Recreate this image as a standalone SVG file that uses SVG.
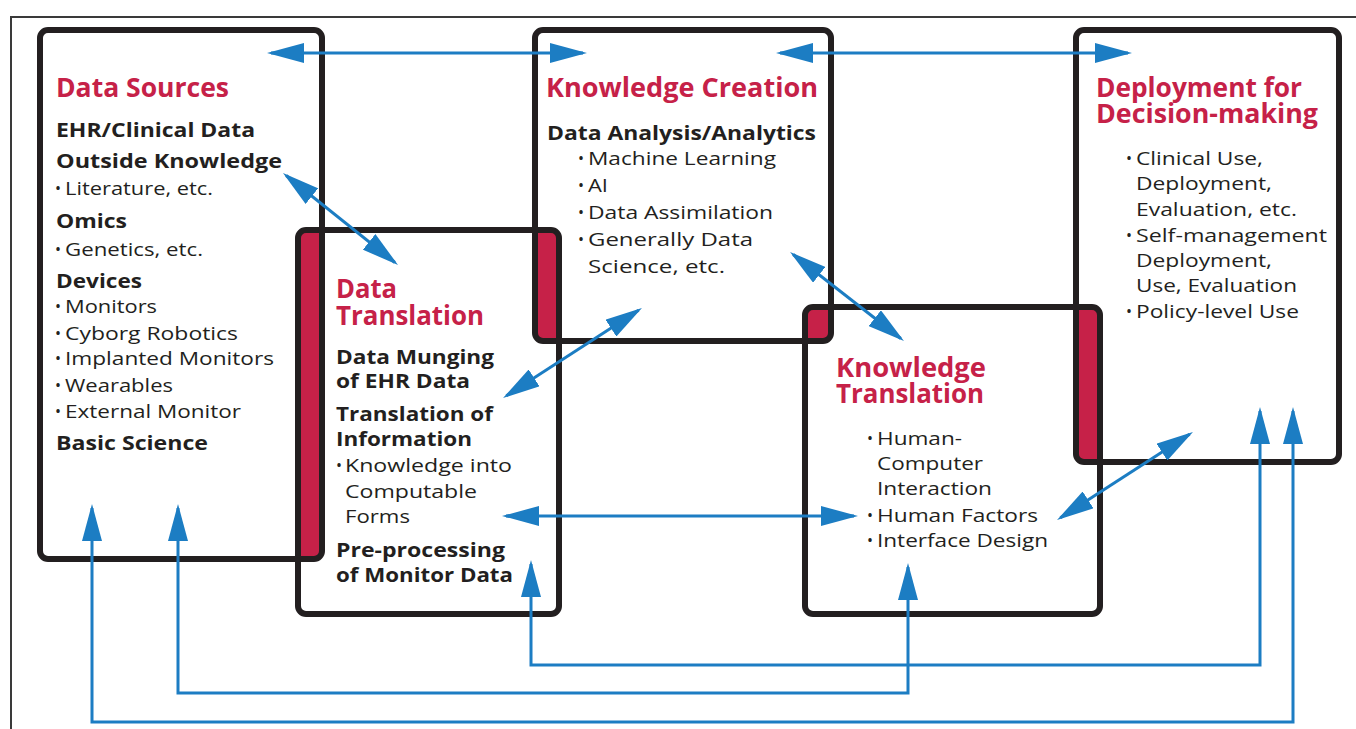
<svg xmlns="http://www.w3.org/2000/svg" width="1356" height="729" viewBox="0 0 1356 729">
  <style>
    .frame { fill: none; stroke: #3a3a3a; stroke-width: 2; }
    .box { fill: none; stroke: #231F20; stroke-width: 6; }
    .band { fill: #C62148; }
    .t { font-family: "Open Sans", "DejaVu Sans", sans-serif; font-weight: 700; font-size: 26px; fill: #C62148; }
    .h { font-family: "Open Sans", "DejaVu Sans", sans-serif; font-weight: 700; font-size: 20px; fill: #231F20; }
    .r { font-family: "Open Sans", "DejaVu Sans", sans-serif; font-weight: 400; font-size: 19px; fill: #231F20; }
    .d { font-family: "Open Sans", "DejaVu Sans", sans-serif; font-weight: 700; font-size: 12px; fill: #231F20; text-anchor: middle; }
    .link { fill: none; stroke: #1C7DC3; stroke-width: 3; marker-start: url(#ah); marker-end: url(#ah); }
  </style>
  <defs>
    <marker id="ah" viewBox="0 0 37 20" refX="33" refY="10" markerWidth="37" markerHeight="20" markerUnits="userSpaceOnUse" orient="auto-start-reverse">
      <path d="M0,0 L37,10 L0,20 z" fill="#1C7DC3"/>
    </marker>
  </defs>

  <rect width="1356" height="729" fill="#ffffff"/>
  <!-- page frame -->
  <path class="frame" d="M11,729 V17 H1356"/>

  <!-- shaded overlap bands -->
  <g id="bands">
    <rect class="band" x="298" y="230" width="24" height="329" rx="6"/>
    <rect class="band" x="535" y="230" width="24" height="111" rx="6"/>
    <rect class="band" x="805" y="307" width="26" height="34" rx="6"/>
    <rect class="band" x="1076" y="307" width="24" height="155" rx="6"/>
  </g>

  <g id="data-sources">
    <rect class="box" x="40" y="30" width="282" height="529" rx="8"/>
    <text class="t" x="56" y="97" textLength="173" lengthAdjust="spacingAndGlyphs">Data Sources</text>
    <text class="h" x="56" y="137" textLength="199" lengthAdjust="spacingAndGlyphs">EHR/Clinical Data</text>
    <text class="h" x="56" y="168" textLength="226" lengthAdjust="spacingAndGlyphs">Outside Knowledge</text>
    <text class="d" x="58" y="193">•</text>
    <text class="r" x="65" y="195" textLength="148" lengthAdjust="spacingAndGlyphs">Literature, etc.</text>
    <text class="h" x="56" y="228" textLength="71" lengthAdjust="spacingAndGlyphs">Omics</text>
    <text class="d" x="58" y="254">•</text>
    <text class="r" x="65" y="256" textLength="138" lengthAdjust="spacingAndGlyphs">Genetics, etc.</text>
    <text class="h" x="56" y="288" textLength="86" lengthAdjust="spacingAndGlyphs">Devices</text>
    <text class="d" x="58" y="311">•</text>
    <text class="r" x="65" y="313" textLength="92" lengthAdjust="spacingAndGlyphs">Monitors</text>
    <text class="d" x="58" y="338">•</text>
    <text class="r" x="65" y="340" textLength="173" lengthAdjust="spacingAndGlyphs">Cyborg Robotics</text>
    <text class="d" x="58" y="363">•</text>
    <text class="r" x="65" y="365" textLength="209" lengthAdjust="spacingAndGlyphs">Implanted Monitors</text>
    <text class="d" x="58" y="390">•</text>
    <text class="r" x="65" y="392" textLength="108" lengthAdjust="spacingAndGlyphs">Wearables</text>
    <text class="d" x="58" y="416">•</text>
    <text class="r" x="65" y="418" textLength="176" lengthAdjust="spacingAndGlyphs">External Monitor</text>
    <text class="h" x="56" y="450" textLength="152" lengthAdjust="spacingAndGlyphs">Basic Science</text>
  </g>

  <g id="data-translation">
    <rect class="box" x="298" y="230" width="261" height="384" rx="8"/>
    <text class="t" x="336" y="298" textLength="61" lengthAdjust="spacingAndGlyphs">Data</text>
    <text class="t" x="336" y="325" textLength="148" lengthAdjust="spacingAndGlyphs">Translation</text>
    <text class="h" x="336" y="364" textLength="158" lengthAdjust="spacingAndGlyphs">Data Munging</text>
    <text class="h" x="336" y="388" textLength="134" lengthAdjust="spacingAndGlyphs">of EHR Data</text>
    <text class="h" x="336" y="421" textLength="157" lengthAdjust="spacingAndGlyphs">Translation of</text>
    <text class="h" x="336" y="446" textLength="136" lengthAdjust="spacingAndGlyphs">Information</text>
    <text class="d" x="339" y="470">•</text>
    <text class="r" x="345" y="472" textLength="167" lengthAdjust="spacingAndGlyphs">Knowledge into</text>
    <text class="r" x="345" y="498" textLength="132" lengthAdjust="spacingAndGlyphs">Computable</text>
    <text class="r" x="345" y="523" textLength="65" lengthAdjust="spacingAndGlyphs">Forms</text>
    <text class="h" x="336" y="557" textLength="169" lengthAdjust="spacingAndGlyphs">Pre-processing</text>
    <text class="h" x="336" y="582" textLength="177" lengthAdjust="spacingAndGlyphs">of Monitor Data</text>
  </g>

  <g id="knowledge-creation">
    <rect class="box" x="535" y="30" width="296" height="311" rx="8"/>
    <text class="t" x="546" y="97" textLength="272" lengthAdjust="spacingAndGlyphs">Knowledge Creation</text>
    <text class="h" x="547" y="140" textLength="269" lengthAdjust="spacingAndGlyphs">Data Analysis/Analytics</text>
    <text class="d" x="581" y="163">•</text>
    <text class="r" x="588" y="165" textLength="188" lengthAdjust="spacingAndGlyphs">Machine Learning</text>
    <text class="d" x="581" y="190">•</text>
    <text class="r" x="588" y="192" textLength="20" lengthAdjust="spacingAndGlyphs">AI</text>
    <text class="d" x="581" y="217">•</text>
    <text class="r" x="588" y="219" textLength="185" lengthAdjust="spacingAndGlyphs">Data Assimilation</text>
    <text class="d" x="581" y="244">•</text>
    <text class="r" x="588" y="246" textLength="165" lengthAdjust="spacingAndGlyphs">Generally Data</text>
    <text class="r" x="588" y="273" textLength="137" lengthAdjust="spacingAndGlyphs">Science, etc.</text>
  </g>

  <g id="knowledge-translation">
    <rect class="box" x="805" y="307" width="295" height="307" rx="8"/>
    <text class="t" x="836" y="377" textLength="150" lengthAdjust="spacingAndGlyphs">Knowledge</text>
    <text class="t" x="836" y="403" textLength="148" lengthAdjust="spacingAndGlyphs">Translation</text>
    <text class="d" x="870" y="443">•</text>
    <text class="r" x="877" y="445" textLength="85" lengthAdjust="spacingAndGlyphs">Human-</text>
    <text class="r" x="877" y="470" textLength="106" lengthAdjust="spacingAndGlyphs">Computer</text>
    <text class="r" x="877" y="495" textLength="115" lengthAdjust="spacingAndGlyphs">Interaction</text>
    <text class="d" x="870" y="520">•</text>
    <text class="r" x="877" y="522" textLength="161" lengthAdjust="spacingAndGlyphs">Human Factors</text>
    <text class="d" x="870" y="545">•</text>
    <text class="r" x="877" y="547" textLength="171" lengthAdjust="spacingAndGlyphs">Interface Design</text>
  </g>

  <g id="deployment">
    <rect class="box" x="1076" y="30" width="263" height="432" rx="8"/>
    <text class="t" x="1096" y="97" textLength="206" lengthAdjust="spacingAndGlyphs">Deployment for</text>
    <text class="t" x="1096" y="123" textLength="222" lengthAdjust="spacingAndGlyphs">Decision-making</text>
    <text class="d" x="1129" y="163">•</text>
    <text class="r" x="1136" y="165" textLength="127" lengthAdjust="spacingAndGlyphs">Clinical Use,</text>
    <text class="r" x="1136" y="190" textLength="136" lengthAdjust="spacingAndGlyphs">Deployment,</text>
    <text class="r" x="1136" y="216" textLength="161" lengthAdjust="spacingAndGlyphs">Evaluation, etc.</text>
    <text class="d" x="1129" y="240">•</text>
    <text class="r" x="1136" y="242" textLength="191" lengthAdjust="spacingAndGlyphs">Self-management</text>
    <text class="r" x="1136" y="267" textLength="136" lengthAdjust="spacingAndGlyphs">Deployment,</text>
    <text class="r" x="1136" y="292" textLength="161" lengthAdjust="spacingAndGlyphs">Use, Evaluation</text>
    <text class="d" x="1129" y="316">•</text>
    <text class="r" x="1136" y="318" textLength="163" lengthAdjust="spacingAndGlyphs">Policy-level Use</text>
  </g>

  <!-- two-way links between stages -->
  <g id="connectors">
    <path class="link" d="M271,53 H583"/>
    <path class="link" d="M780,53 H1128"/>
    <path class="link" d="M286.1,175.5 L394.9,262.5"/>
    <path class="link" d="M638.6,310.2 L506.4,395.8"/>
    <path class="link" d="M793.2,254.5 L900.8,338.5"/>
    <path class="link" d="M506,516 H854"/>
    <path class="link" d="M1060.4,517.8 L1189.6,434.2"/>
    <path class="link" d="M531,564 V665 H1260 V411"/>
    <path class="link" d="M178,508 V693 H908 V567"/>
    <path class="link" d="M92,508 V722 H1293 V411"/>
  </g>
</svg>
